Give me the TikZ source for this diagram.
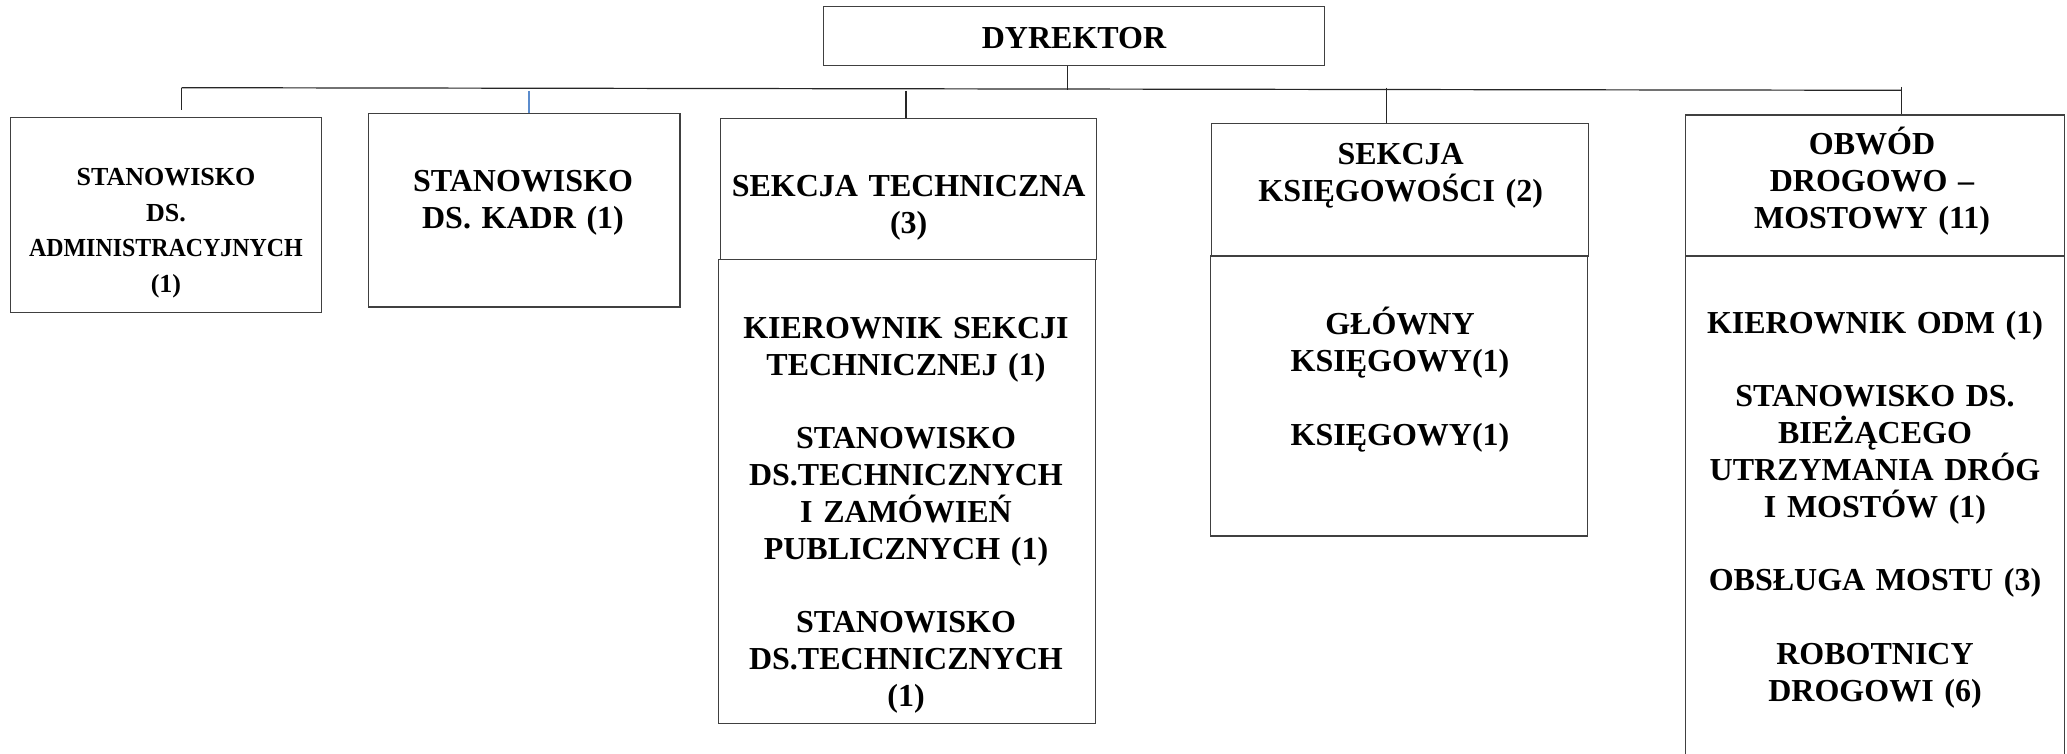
\documentclass[tikz,border=0pt]{standalone}
\usepackage{fontspec}
\setmainfont{Liberation Serif}
\usepackage{graphicx}
\usepackage{tikz}
\usetikzlibrary{fit}
\usepackage{xcolor}
\definecolor{linegray}{RGB}{64,64,64}
\definecolor{stubblue}{RGB}{91,140,205}

\begin{document}
\begin{tikzpicture}[x=0.5pt, y=-0.5pt,
    box/.style={draw=linegray, line width=0.7pt, inner sep=0pt},
    txt/.style={font=\bfseries\fontsize{16}{18.4}\selectfont, align=center, text width=200pt, inner sep=0pt, anchor=base},
    smalltxt/.style={font=\bfseries\fontsize{13}{17.75}\selectfont},
    link/.style={draw=black!85, line width=0.6pt}]
    \useasboundingbox (0,0) rectangle (2067,754);
    \clip (0,0) rectangle (2067,754);

    \node[box, fit={(823.7,6.7) (1324.6,65.7)}] (dyr) {};
    \node[box, fit={(10.3,117.7) (321.7,312.3)}] (adm) {};
    \node[box, fit={(368.3,113.3) (679.9,307)}] (kadr) {};
    \node[box, fit={(720.7,118.3) (1096.3,259.3)}] (tech) {};
    \node[box, fit={(718.7,259.3) (1095.7,723.3)}] (techbody) {};
    \node[box, fit={(1211.7,123.3) (1588.3,256)}] (ksg) {};
    \node[box, fit={(1210.7,256) (1587.3,536)}] (ksgbody) {};
    \node[box, fit={(1685.3,115) (2064.3,256)}] (odm) {};
    \node[box, fit={(1685.3,256) (2064.3,820)}] (odmbody) {};

    \node[txt] (dyrtxt) at (1074,48.3) {DYREKTOR};
    \node[txt, smalltxt] (admtxt) at (166,186) {STANOWISKO\\DS.\\\scalebox{0.92}[1]{ADMINISTRACYJNYCH}\\(1)};
    \node[txt] (kadrtxt) at (523,191.7) {STANOWISKO\\DS. KADR (1)};
    \node[txt] (techtxt) at (908.7,196.7) {SEKCJA TECHNICZNA\\(3)};
    \node[txt] (techbodytxt) at (906,338.3) {KIEROWNIK SEKCJI\\TECHNICZNEJ (1)\\[18.4pt]
        STANOWISKO\\DS.TECHNICZNYCH\\I ZAMÓWIEŃ\\PUBLICZNYCH (1)\\[18.4pt]
        STANOWISKO\\DS.TECHNICZNYCH\\(1)};
    \node[txt] (ksgtxt) at (1400.7,164.3) {SEKCJA\\KSIĘGOWOŚCI (2)};
    \node[txt] (ksgbodytxt) at (1400,335) {GŁÓWNY\\KSIĘGOWY(1)\\[18.4pt] KSIĘGOWY(1)};
    \node[txt] (odmtxt) at (1872,155) {OBWÓD\\DROGOWO –\\MOSTOWY (11)};
    \node[txt] (odmbodytxt) at (1875,333.3) {KIEROWNIK ODM (1)\\[18.4pt]
        STANOWISKO DS.\\BIEŻĄCEGO\\UTRZYMANIA DRÓG\\I MOSTÓW (1)\\[18.4pt]
        OBSŁUGA MOSTU (3)\\[18.4pt]
        ROBOTNICY\\DROGOWI (6)};

    \coordinate (busL) at (181.7,87.7);
    \coordinate (busR) at (1901.7,90.3);
    \coordinate (c2) at (529,91);
    \coordinate (c3) at (906,91);
    \coordinate (c4) at (1386.3,87.7);
    \coordinate (c5) at (1901.7,87);
    \draw[link] (busL) -- (busR);
    \draw[link] ([xshift=-3.5pt]dyr.south) -- ++(0,23.3);
    \draw[link, shorten >=3.5pt] (busL) -- (busL |- adm.north);
    \draw[link, draw=stubblue] (c2) -- (c2 |- kadr.north);
    \draw[link] (c3) -- (c3 |- tech.north);
    \draw[link] (c4) -- (c4 |- ksg.north);
    \draw[link] (c5) -- (c5 |- odm.north);
\end{tikzpicture}
\end{document}
